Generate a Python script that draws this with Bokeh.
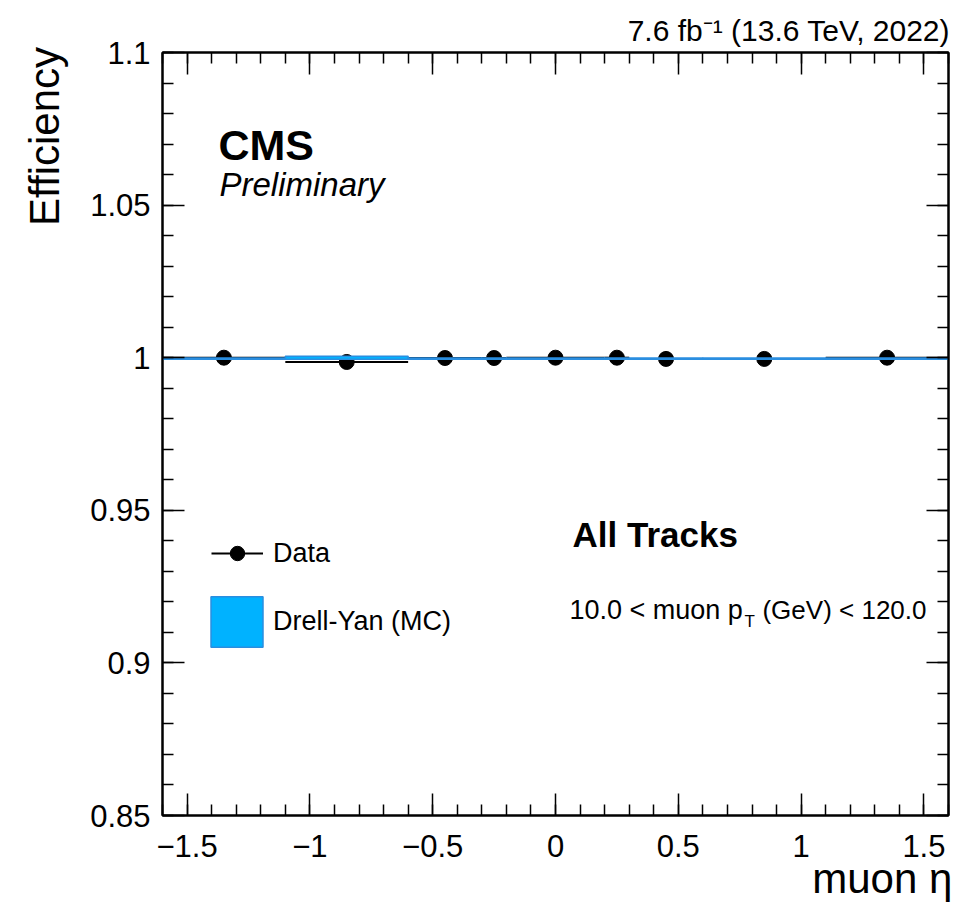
import math
import numpy as np
from bokeh.plotting import figure
from bokeh.models import (Range1d, FixedTicker, LinearAxis, Label, Legend, LegendItem,
                          CustomJSTickFormatter, ColumnDataSource)
from bokeh.embed import file_html
from bokeh.resources import INLINE

# ---------------- data ----------------
bin_edges = [-1.6, -1.1, -0.6, -0.3, -0.2, 0.2, 0.3, 0.6, 1.1, 1.6]
data_eff = [1.0000, 0.9986, 0.9999, 0.9999, 1.0000, 1.0000, 0.9996, 0.9996, 1.0000]
data_err = [0.0002, 0.0003, 0.0002, 0.0003, 0.0002, 0.0003, 0.0002, 0.0002, 0.0002]
mc_eff = [0.9997, 1.0000, 0.9997, 0.9997, 0.9997, 0.9997, 0.9997, 0.9997, 0.9997]
mc_err = [0.0002, 0.0005, 0.0002, 0.0002, 0.0002, 0.0002, 0.0002, 0.0002, 0.0002]

x_ticks = [-1.5, -1.0, -0.5, 0.0, 0.5, 1.0, 1.5]
y_ticks = [0.85, 0.90, 0.95, 1.00, 1.05, 1.10]

X_MIN, X_MAX = -1.6, 1.6
Y_MIN, Y_MAX = 0.85, 1.1

# ---------------- layout helpers ----------------
W, H = 962, 908
FX0, FX1, FY0, FY1 = 162, 948, 52, 815   # frame in pixels
NBSP = "\u00a0"


def xd(px):
    return X_MIN + (px - FX0) * (X_MAX - X_MIN) / (FX1 - FX0)


def yd(py):
    return Y_MAX - (py - FY0) * (Y_MAX - Y_MIN) / (FY1 - FY0)


FONT = "Liberation Sans"

lo = bin_edges[:-1]
hi = bin_edges[1:]
centers = [(a + b) / 2 for a, b in zip(lo, hi)]

src = ColumnDataSource(dict(
    lo=lo, hi=hi, x=centers, y=data_eff,
    ylo=[v - e for v, e in zip(data_eff, data_err)],
    yhi=[v + e for v, e in zip(data_eff, data_err)],
    mclo=[v - e for v, e in zip(mc_eff, mc_err)],
    mchi=[v + e for v, e in zip(mc_eff, mc_err)],
))

p = figure(width=W, height=H, x_range=Range1d(X_MIN, X_MAX), y_range=Range1d(Y_MIN, Y_MAX),
           output_backend="svg", toolbar_location=None,
           min_border_left=FX0, min_border_right=W - FX1,
           min_border_top=FY0, min_border_bottom=H - FY1)
p.xgrid.visible = False
p.ygrid.visible = False
p.background_fill_color = "white"
p.border_fill_color = "white"
p.outline_line_color = "black"
p.outline_line_width = 2

fmt = CustomJSTickFormatter(code="""
const v = Math.round(tick * 1000) / 1000;
return String(v).replace('-', '\u2212');
""")
blank = CustomJSTickFormatter(code="return '';")

x_ticker = FixedTicker(ticks=x_ticks,
                       minor_ticks=[round(v, 2) for v in np.arange(-1.6, 1.601, 0.1)])
y_ticker = FixedTicker(ticks=y_ticks,
                       minor_ticks=[round(v, 3) for v in np.arange(0.85, 1.1001, 0.01)])


def style_axis(ax, labels=True):
    ax.axis_line_color = "black"
    ax.axis_line_width = 2
    ax.major_tick_in = 22
    ax.major_tick_out = 0
    ax.minor_tick_in = 11
    ax.minor_tick_out = 0
    ax.major_tick_line_color = "black"
    ax.minor_tick_line_color = "black"
    ax.major_tick_line_width = 1.5
    ax.minor_tick_line_width = 1.5
    ax.axis_label_text_font = FONT
    ax.axis_label_text_font_style = "normal"
    ax.axis_label_text_color = "black"
    if labels:
        ax.formatter = fmt
        ax.major_label_text_font = FONT
        ax.major_label_text_font_size = "31px"
        ax.major_label_text_color = "black"
    else:
        ax.formatter = blank
        ax.major_label_text_font_size = "0px"
        ax.major_label_standoff = 0


xa = p.xaxis[0]
ya = p.yaxis[0]
xa.ticker = x_ticker
ya.ticker = y_ticker
style_axis(xa)
style_axis(ya)
xa.major_label_standoff = 19
ya.major_label_standoff = 12

# Axis titles are centred by Bokeh; no-break spaces pad them so that the
# visible words sit at the high end of the axis (ROOT-style alignment).
xa.axis_label = NBSP * 56 + "muon η"
xa.axis_label_text_font_size = "42px"
xa.axis_label_align = "center"
xa.axis_label_standoff = -5

ya.axis_label = NBSP * 51 + "Efficiency"
ya.axis_label_text_font_size = "42px"
ya.axis_label_align = "center"
ya.axis_label_standoff = 19

top = LinearAxis(ticker=x_ticker)
right = LinearAxis(ticker=y_ticker)
style_axis(top, labels=False)
style_axis(right, labels=False)
top.axis_label = NBSP * 56 + "7.6 fb⁻¹ (13.6 TeV, 2022)"
top.axis_label_text_font_size = "30px"
top.axis_label_align = "center"
top.axis_label_standoff = 6
p.add_layout(top, "above")
p.add_layout(right, "right")

# ---------------- Data ----------------
seg_h = p.segment(x0="lo", x1="hi", y0="y", y1="y", source=src,
                  line_color="black", line_width=2)
p.segment(x0="x", x1="x", y0="ylo", y1="yhi", source=src,
          line_color="black", line_width=2)
pts = p.scatter(x="x", y="y", source=src, size=15, marker="circle",
                fill_color="black", line_color="black")

# ---------------- MC (Drell-Yan), drawn over the data as in the reference ----------------
mc_r = p.quad(left="lo", right="hi", bottom="mclo", top="mchi", source=src,
              fill_color="#00b2ff", line_color="#2a8ee0", line_width=1.5)

# ---------------- legends ----------------
leg1 = Legend(items=[LegendItem(label="Data", renderers=[seg_h, pts])],
              location=(211 - FX0, FY1 - 571),
              glyph_width=52, glyph_height=36, label_standoff=10,
              label_text_font=FONT, label_text_font_size="27px", label_text_color="black",
              background_fill_alpha=0, border_line_color=None,
              padding=0, margin=0)
leg2 = Legend(items=[LegendItem(label="Drell-Yan (MC)", renderers=[mc_r])],
              location=(204 - FX0, FY1 - 653),
              glyph_width=65, glyph_height=63, label_standoff=4,
              label_text_font=FONT, label_text_font_size="27px", label_text_color="black",
              background_fill_alpha=0, border_line_color=None,
              padding=0, margin=0)
p.add_layout(leg1, "center")
p.add_layout(leg2, "center")

# ---------------- texts inside the frame ----------------
def lab(text, px, py, size, align="left", style="normal"):
    p.add_layout(Label(x=xd(px), y=yd(py), text=text, text_font=FONT,
                       text_font_size=f"{size}px", text_font_style=style,
                       text_align=align, text_baseline="alphabetic",
                       text_color="black"))


lab("CMS", 218, 144, 43, style="bold")
lab("Preliminary", 219, 184, 33, style="italic")
lab("All Tracks", 572, 534, 35, style="bold")
lab("10.0 < muon p", 569, 609, 27)
lab("T", 744, 621, 17)
lab("(GeV) < 120.0", 926, 609, 26, align="right")

open("out.html", "w").write(file_html(p, INLINE))
